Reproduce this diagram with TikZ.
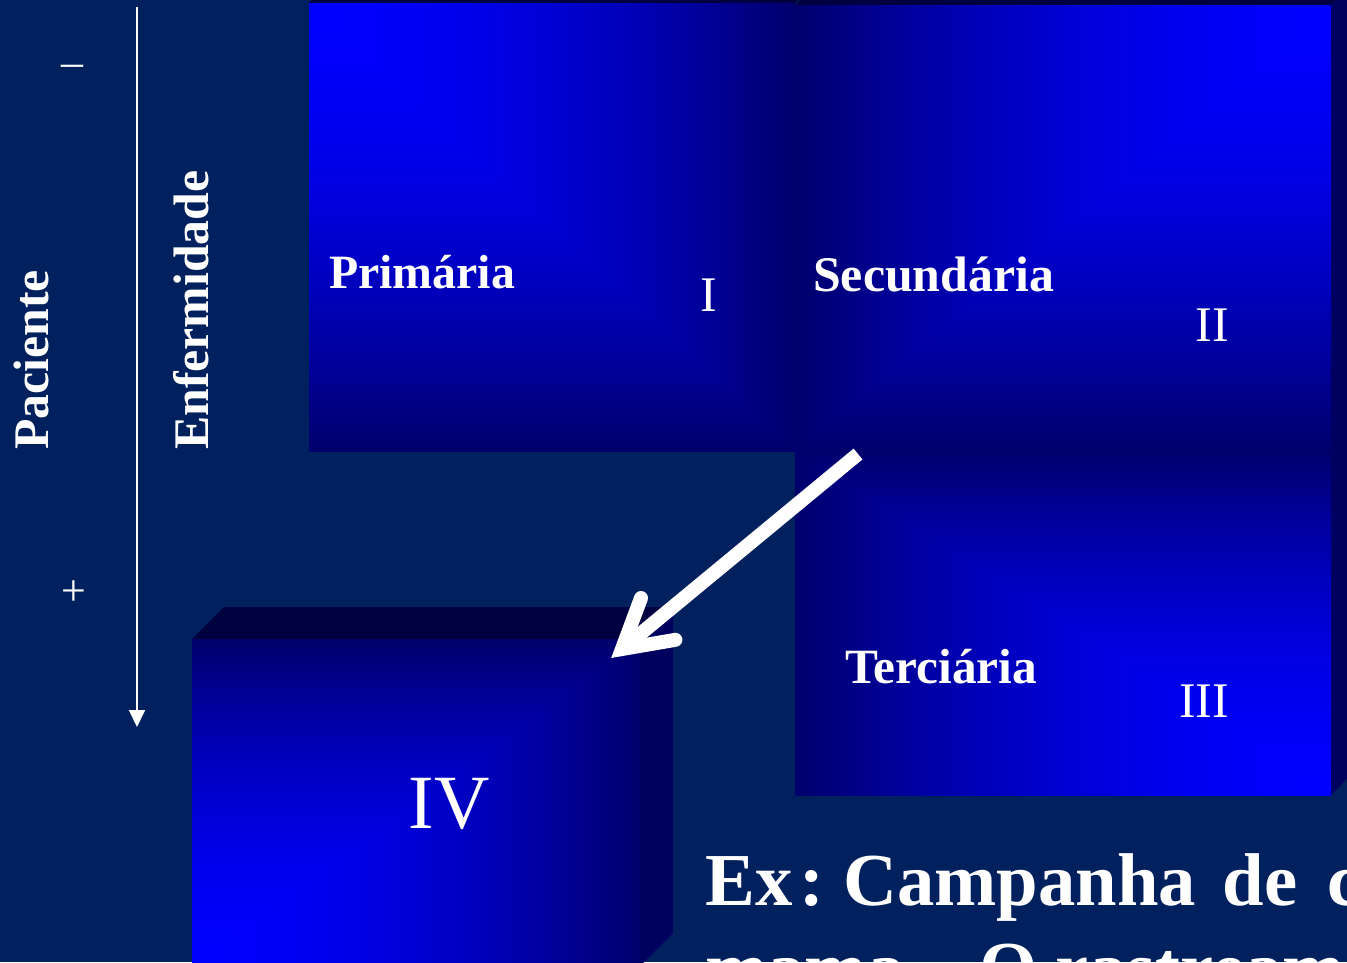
\documentclass[tikz,border=0pt]{standalone}
\usepackage{fontspec}
\setmainfont{Liberation Serif}
\usetikzlibrary{arrows.meta}
\definecolor{bgC}{RGB}{0,33,94}
\definecolor{topC}{RGB}{0,0,64}
\definecolor{sideC}{RGB}{0,0,96}
% corner gradients: bright blue at one corner, navy towards the far edges
\pgfdeclarefunctionalshading{gTL}{\pgfpoint{0bp}{0bp}}{\pgfpoint{100bp}{100bp}}{}{
  exch 25 sub 50 div exch 25 sub 50 div 1 exch sub
  2 copy sub abs 3 1 roll add add 2 div
  dup abs add 2 div dup 0.75 exp mul 0.58 mul 1 exch sub
  0 0 3 -1 roll
}
\pgfdeclarefunctionalshading{gTR}{\pgfpoint{0bp}{0bp}}{\pgfpoint{100bp}{100bp}}{}{
  exch 25 sub 50 div 1 exch sub exch 25 sub 50 div 1 exch sub
  2 copy sub abs 3 1 roll add add 2 div
  dup abs add 2 div dup 0.75 exp mul 0.58 mul 1 exch sub
  0 0 3 -1 roll
}
\pgfdeclarefunctionalshading{gBR}{\pgfpoint{0bp}{0bp}}{\pgfpoint{100bp}{100bp}}{}{
  exch 25 sub 50 div 1 exch sub exch 25 sub 50 div
  2 copy sub abs 3 1 roll add add 2 div
  dup abs add 2 div dup 0.75 exp mul 0.58 mul 1 exch sub
  0 0 3 -1 roll
}
\pgfdeclarefunctionalshading{gBL}{\pgfpoint{0bp}{0bp}}{\pgfpoint{100bp}{100bp}}{}{
  exch 25 sub 50 div exch 25 sub 50 div
  2 copy sub abs 3 1 roll add add 2 div
  dup abs add 2 div dup 0.75 exp mul 0.58 mul 1 exch sub
  0 0 3 -1 roll
}
\tikzset{
  panel/.style={rectangle, inner sep=0pt, outer sep=0pt, anchor=north west},
  boldlbl/.style={text=white, inner sep=0pt, font=\fontsize{48}{56}\selectfont\bfseries},
  axislbl/.style={text=white, inner sep=0pt, font=\fontsize{50}{58}\selectfont\bfseries, rotate=90, anchor=base west},
  numlbl/.style={text=white, inner sep=0pt, font=\fontsize{50}{58}\selectfont, anchor=base},
  signlbl/.style={text=white, inner sep=0pt, font=\fontsize{44}{50}\selectfont, anchor=base},
  biglbl/.style={text=white, inner sep=0pt, font=\fontsize{75}{90}\selectfont\bfseries, anchor=base west}
}
\begin{document}
\begin{tikzpicture}[x=1bp,y=-1bp]
\useasboundingbox (0,0) rectangle (1347,962);
\clip (0,0) rectangle (1347,962);
\fill[bgC] (0,0) rectangle (1347,962);

% --- group I / II / III (3D depth towards upper right)
\fill[topC] (309,3) -- (341,-30) -- (827,-30) -- (795,3) -- cycle;
\fill[topC] (795,5) -- (827,-28) -- (1363,-28) -- (1331,5) -- cycle;
\fill[sideC] (1331,5) -- (1363,-28) -- (1363,762) -- (1331,795) -- cycle;
\node[panel, shading=gTL, minimum width=486bp, minimum height=448bp] (boxI) at (309,3) {};
\node[panel, shading=gTR, minimum width=536bp, minimum height=445bp] (boxII) at (795,5) {};
\node[panel, shading=gBR, minimum width=536bp, minimum height=345bp] (boxIII) at (795,450) {};

% --- box IV
\fill[topC] (192,639) -- (224,607) -- (673,607) -- (640,639) -- cycle;
\fill[sideC] (640,639) -- (673,607) -- (673,933) -- (640,966) -- cycle;
\node[panel, shading=gBL, minimum width=448bp, minimum height=327bp] (boxIV) at (192,639) {};

% --- labels in the boxes
\node[boldlbl, anchor=base west] (primaria) at (329,288) {Primária};
\node[numlbl] (nI) at (709,311) {I};
\node[boldlbl, anchor=base west, font=\fontsize{50}{58}\selectfont\bfseries] (secundaria) at (813,291) {Secundária};
\node[numlbl] (nII) at (1212,341) {II};
\node[boldlbl, anchor=base west, font=\fontsize{49.5}{58}\selectfont\bfseries] (terciaria) at (845,683) {Terciária};
\node[numlbl] (nIII) at (1204,717) {III};
\node[numlbl, font=\fontsize{77}{90}\selectfont] (nIV) at (449,828) {IV};

% --- left axis
\node[axislbl] (paciente) at (48,450) {Paciente};
\node[axislbl] (enfermidade) at (208,450) {Enfermidade};
\node[signlbl] (minus) at (72,76) {–};
\node[signlbl] (plus) at (74,605) {+};
\coordinate (axTop) at (137,7);
\coordinate (axBot) at (137,727);
\draw[white, line width=1.8bp, -{Triangle[length=17bp,width=16bp]}] (axTop) -- (axBot);

% --- example text
\node[biglbl] (ex1) at (705,905) {Ex\hspace{0.1em}:\hspace{0.25em}Campanha\hspace{0.35em}de\hspace{0.4em}câncer de};
\node[biglbl] (ex2) at (705,993) {mama – O rastreamento};

% --- white arrow from III/II towards IV
\coordinate (arrS) at (858,454);
\coordinate (arrT) at (622,649);
\coordinate (arrB1) at (641,598);
\coordinate (arrB2) at (675.4,639.8);
\draw[white, line width=14bp] (arrS) -- (arrT);
\draw[white, line width=14bp, line cap=round, line join=miter] (arrB1) -- (arrT) -- (arrB2);
\end{tikzpicture}
\end{document}
